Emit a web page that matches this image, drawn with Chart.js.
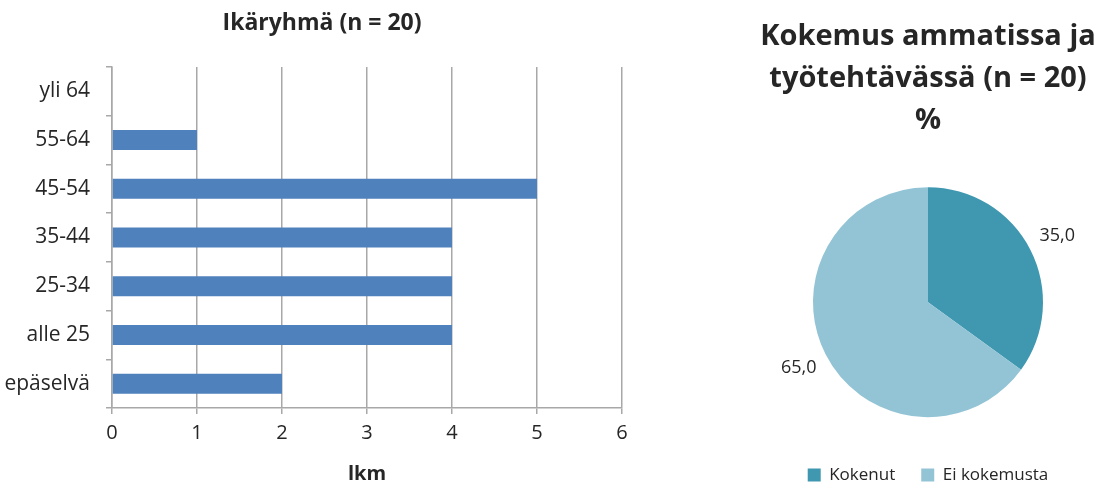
<!DOCTYPE html>
<html lang="fi">
<head>
<meta charset="utf-8">
<title>Ikäryhmä ja kokemus</title>
<script src="https://cdn.jsdelivr.net/npm/chart.js@4.4.1/dist/chart.umd.min.js"></script>
<style>
  html, body { margin: 0; padding: 0; background: #ffffff; overflow: hidden; }
  body { width: 1097px; height: 486px; position: relative; }
  #ageWrap { position: absolute; left: 0; top: 0; width: 650px; height: 486px; }
  #expWrap { position: absolute; left: 759px; top: 0; width: 338px; height: 486px; }
</style>
</head>
<body>
<div id="ageWrap"><canvas id="ageChart"></canvas></div>
<div id="expWrap"><canvas id="expChart"></canvas></div>
<script>
// Age groups (top to bottom) and head counts
const ageGroups = ['yli 64', '55-64', '45-54', '35-44', '25-34', 'alle 25', 'epäselvä'];
const ageCounts = [0, 1, 5, 4, 4, 4, 2];
const countTicks = [0, 1, 2, 3, 4, 5, 6];

// Work experience shares, percent
const expLabels = ['Kokenut', 'Ei kokemusta'];
const expShares = [35.0, 65.0];

const FONT = '"Open Sans", Lato, sans-serif';
const TEXT = '#262626';
const GRID = '#a8a8a8';

Chart.defaults.font.family = FONT;
Chart.defaults.color = TEXT;
Chart.defaults.animation = false;

// Centre the title over the whole chart object rather than up to the plot edge
const wideTitle = {
  id: 'wideTitle',
  afterLayout(chart) {
    if (chart.titleBlock) chart.titleBlock.right = chart.width - 6;
  }
};

new Chart(document.getElementById('ageChart'), {
  type: 'bar',
  data: {
    labels: ageGroups,
    datasets: [{
      label: 'lkm',
      data: ageCounts,
      backgroundColor: '#4f81bd',
      borderWidth: 0,
      categoryPercentage: 1,
      barPercentage: 0.41
    }]
  },
  options: {
    indexAxis: 'y',
    responsive: true,
    maintainAspectRatio: false,
    layout: { padding: { top: 0, left: 0, right: 28, bottom: 0 } },
    plugins: {
      legend: { display: false },
      tooltip: { enabled: false },
      title: {
        display: true,
        text: 'Ikäryhmä (n = 20)',
        font: { size: 23, weight: 'bold', lineHeight: 1.2 },
        color: TEXT,
        padding: { top: 10, bottom: 29.4 }
      }
    },
    scales: {
      x: {
        min: 0,
        max: 6,
        afterBuildTicks: (scale) => { scale.ticks = countTicks.map(v => ({ value: v })); },
        afterFit: (scale) => { scale.height = 78; },
        ticks: { font: { size: 20 }, color: TEXT, padding: 7 },
        grid: { color: GRID, lineWidth: 1.5, drawTicks: true, tickLength: 6 },
        border: { display: true, color: GRID, width: 1.5 },
        title: {
          display: true,
          text: 'lkm',
          font: { size: 20, weight: 'bold', lineHeight: 1.2 },
          color: TEXT,
          padding: { top: 0, bottom: 0 }
        }
      },
      y: {
        afterFit: (scale) => { scale.width = 112; },
        ticks: { font: { size: 21 }, color: TEXT, padding: 16 },
        grid: { drawOnChartArea: false, drawTicks: true, tickLength: 6, color: GRID, lineWidth: 1.5 },
        border: { display: true, color: GRID, width: 1.5 }
      }
    }
  },
  plugins: [wideTitle]
});

// Percentage labels placed just outside each slice
const sliceLabels = {
  id: 'sliceLabels',
  afterDatasetsDraw(chart) {
    const ctx = chart.ctx;
    const meta = chart.getDatasetMeta(0);
    ctx.save();
    ctx.font = '18px ' + FONT;
    ctx.fillStyle = TEXT;
    ctx.textAlign = 'center';
    ctx.textBaseline = 'middle';
    meta.data.forEach((arc, i) => {
      const p = arc.getProps(['x', 'y', 'startAngle', 'endAngle', 'outerRadius'], true);
      const mid = (p.startAngle + p.endAngle) / 2;
      const r = p.outerRadius + 30;
      const text = chart.data.datasets[0].data[i].toFixed(1).replace('.', ',');
      ctx.fillText(text, p.x + Math.cos(mid) * r, p.y + Math.sin(mid) * r);
    });
    ctx.restore();
  }
};

new Chart(document.getElementById('expChart'), {
  type: 'pie',
  data: {
    labels: expLabels,
    datasets: [{
      data: expShares,
      backgroundColor: ['#3f98b0', '#93c4d6'],
      borderWidth: 0,
      radius: 115
    }]
  },
  options: {
    responsive: true,
    maintainAspectRatio: false,
    layout: { padding: { top: 0, left: 0, right: 0, bottom: -7.5 } },
    plugins: {
      tooltip: { enabled: false },
      title: {
        display: true,
        text: ['Kokemus ammatissa ja', 'työtehtävässä (n = 20)', '%'],
        font: { size: 29, weight: 'bold', lineHeight: 1.45 },
        color: TEXT,
        padding: { top: 16, bottom: 21.6 }
      },
      legend: {
        display: true,
        position: 'bottom',
        labels: {
          boxWidth: 13,
          boxHeight: 13,
          padding: 26,
          font: { size: 17 },
          color: TEXT
        }
      }
    }
  },
  plugins: [sliceLabels]
});
</script>
</body>
</html>
